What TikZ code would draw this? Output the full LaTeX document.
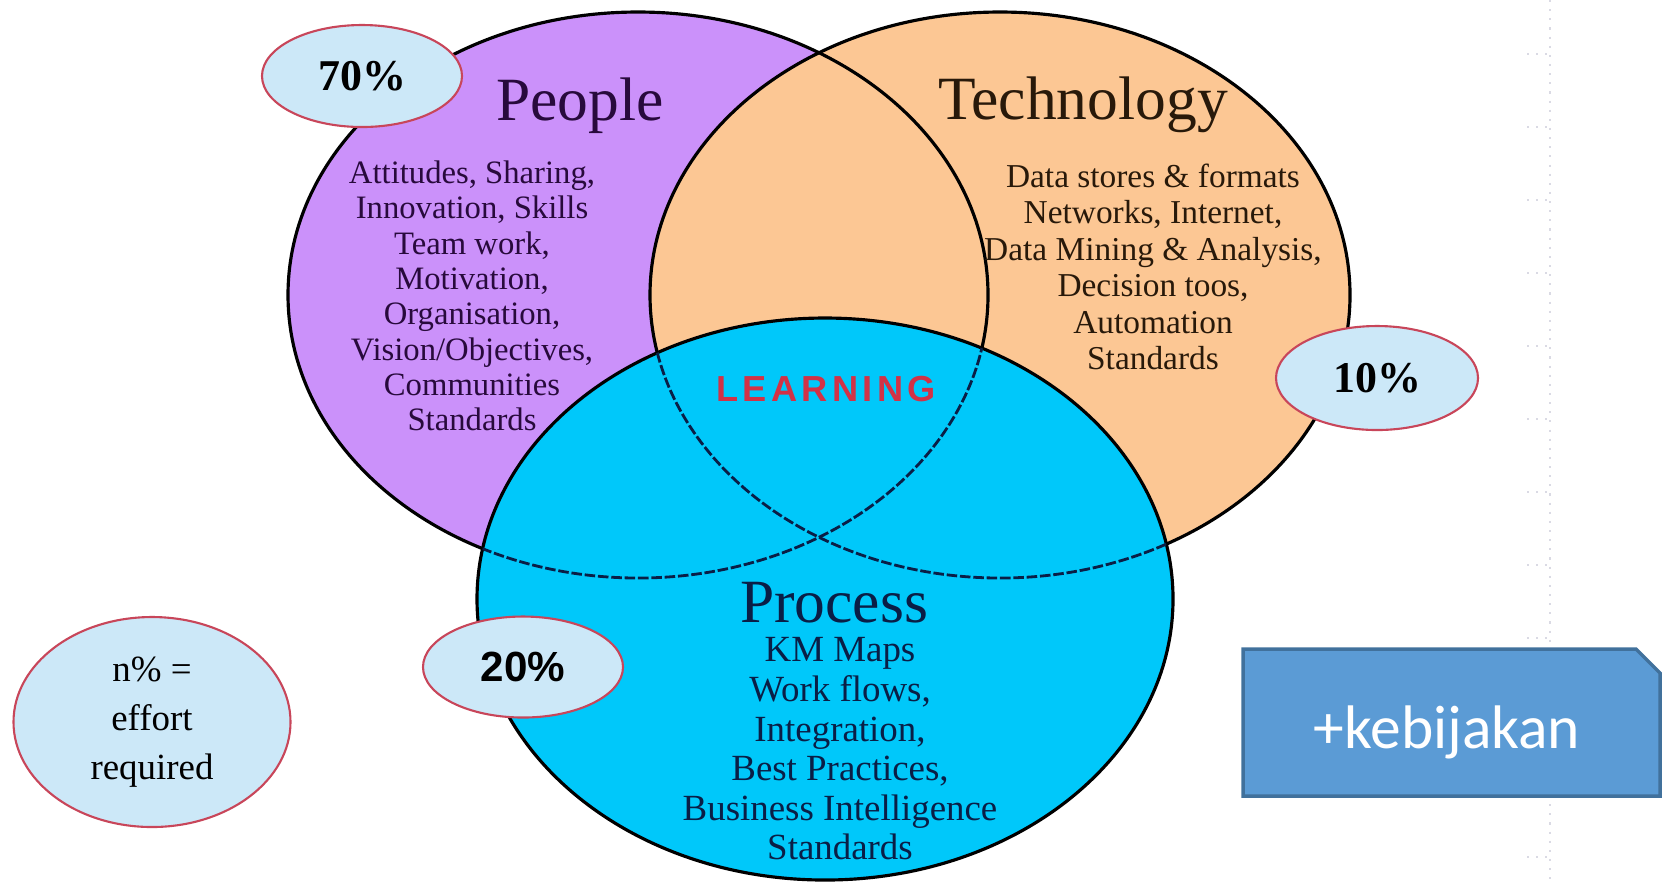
\documentclass[tikz,border=0pt]{standalone}
\usepackage{fontspec}
\setmainfont{Liberation Serif}
\newfontfamily\pctsans{Liberation Sans}
\newfontfamily\learnfont[LetterSpace=12]{Liberation Sans}
\newfontfamily\boxfont{Carlito}
\usepackage{xcolor}
\usepackage{tikz}
\usetikzlibrary{shapes, positioning}

\definecolor{peoplec}{RGB}{203,145,250}
\definecolor{techc}{RGB}{252,199,148}
\definecolor{procc}{RGB}{0,200,250}
\definecolor{peoplet}{RGB}{40,10,60}
\definecolor{techt}{RGB}{40,25,10}
\definecolor{proct}{RGB}{10,30,70}
\definecolor{bubblec}{RGB}{204,232,248}
\definecolor{bubbleb}{RGB}{200,70,90}
\definecolor{learnc}{RGB}{210,50,70}
\definecolor{boxc}{RGB}{91,155,213}
\definecolor{boxb}{RGB}{65,113,156}
\definecolor{gridc}{RGB}{218,218,228}

\begin{document}
\begin{tikzpicture}

		\tikzstyle{venn}=[line width=0.9pt, draw=black]
		\tikzstyle{overlap}=[line width=0.8pt, draw=proct, dash pattern=on 3pt off 0.8pt]
		\tikzstyle{bubble}=[ellipse, draw=bubbleb, line width=0.6pt, fill=bubblec, inner sep=0pt]
		\tikzstyle{title}=[anchor=base, font=\fontsize{17.5}{20}\selectfont]
		\tikzstyle{items}=[align=center, inner sep=0pt]
		\tikzstyle{gridline}=[gridc, line width=0.6pt, dotted]
		
		\useasboundingbox (0,0) rectangle (16.64,-8.82);
		
		\coordinate (cpeople) at (6.38,-2.95);
		\coordinate (ctech) at (10.00,-2.95);
		\coordinate (cproc) at (8.25,-5.99);
		
		%% faint ruler on the right
		\draw [gridline] (15.50,0) -- (15.50,-8.82);
		\foreach \k in {0,...,11}
			\draw [gridline] (15.27,{-0.54-0.73*\k}) -- (15.50,{-0.54-0.73*\k});
		
		\fill [peoplec] (cpeople) ellipse [x radius=3.50, y radius=2.83];
		\fill [techc] (ctech) ellipse [x radius=3.50, y radius=2.83];
		\draw [venn] (cpeople) ellipse [x radius=3.50, y radius=2.83];
		\draw [venn] (ctech) ellipse [x radius=3.50, y radius=2.83];
		
		\filldraw [venn, fill=procc] (cproc) ellipse [x radius=3.48, y radius=2.81];
		\begin{scope}
			\clip (cproc) ellipse [x radius=3.48, y radius=2.81];
			\draw [overlap] (cpeople) ellipse [x radius=3.50, y radius=2.83];
			\draw [overlap] (ctech) ellipse [x radius=3.50, y radius=2.83];
		\end{scope}
		
		\node (people) at (5.80,-1.20) [title, text=peoplet] {People};
		\node (technology) at (10.83,-1.19) [title, text=techt] {Technology};
		\node (process) at (8.34,-6.22) [title, text=proct] {Process};
		
		\node (peoplelist) at (4.72,-2.96) [items, text=peoplet, font=\fontsize{9.3}{10.04}\selectfont]
			{Attitudes, Sharing,\\ Innovation, Skills\\ Team work,\\ Motivation,\\ Organisation,\\ Vision/Objectives,\\ Communities\\ Standards};
		\node (techlist) at (11.53,-2.67) [items, text=techt, font=\fontsize{9.5}{10.36}\selectfont]
			{Data stores \& formats\\ Networks, Internet,\\ Data Mining \& Analysis,\\ Decision toos,\\ Automation\\ Standards};
		\node (proclist) at (8.40,-7.49) [items, text=proct, font=\fontsize{10.5}{11.27}\selectfont]
			{KM Maps\\ Work flows,\\ Integration,\\ Best Practices,\\ Business Intelligence\\ Standards};
		
		\node (learning) at (8.26,-3.89) [text=learnc, font=\learnfont\bfseries\fontsize{10.3}{12}\selectfont] {LEARNING};
		
		\node (p70) at (3.62,-0.76) [bubble, minimum width=2.00cm, minimum height=1.02cm, font=\bfseries\fontsize{12.5}{14}\selectfont] {70\%};
		\node (p10) at (13.77,-3.78) [bubble, minimum width=2.02cm, minimum height=1.04cm, font=\bfseries\fontsize{12.5}{14}\selectfont] {10\%};
		\node (p20) at (5.23,-6.67) [bubble, minimum width=2.00cm, minimum height=1.01cm, font=\pctsans\bfseries\fontsize{12}{14}\selectfont] {20\%};
		\node (legend) at (1.52,-7.22) [bubble, minimum width=2.77cm, minimum height=2.10cm, align=center, font=\fontsize{10.5}{14}\selectfont] {n\% =\\ effort\\ required};
		
		%% policy box
		\draw [fill=boxc, draw=boxb, line width=1pt] (12.43,-6.49) -- (16.36,-6.49) -- (16.60,-6.73) -- (16.60,-7.96) -- (12.43,-7.96) -- cycle;
		\node (kebijakan) at (14.47,-7.32) [text=white, font=\boxfont\fontsize{17.5}{20}\selectfont] {+kebijakan};
		
\end{tikzpicture}
\end{document}
